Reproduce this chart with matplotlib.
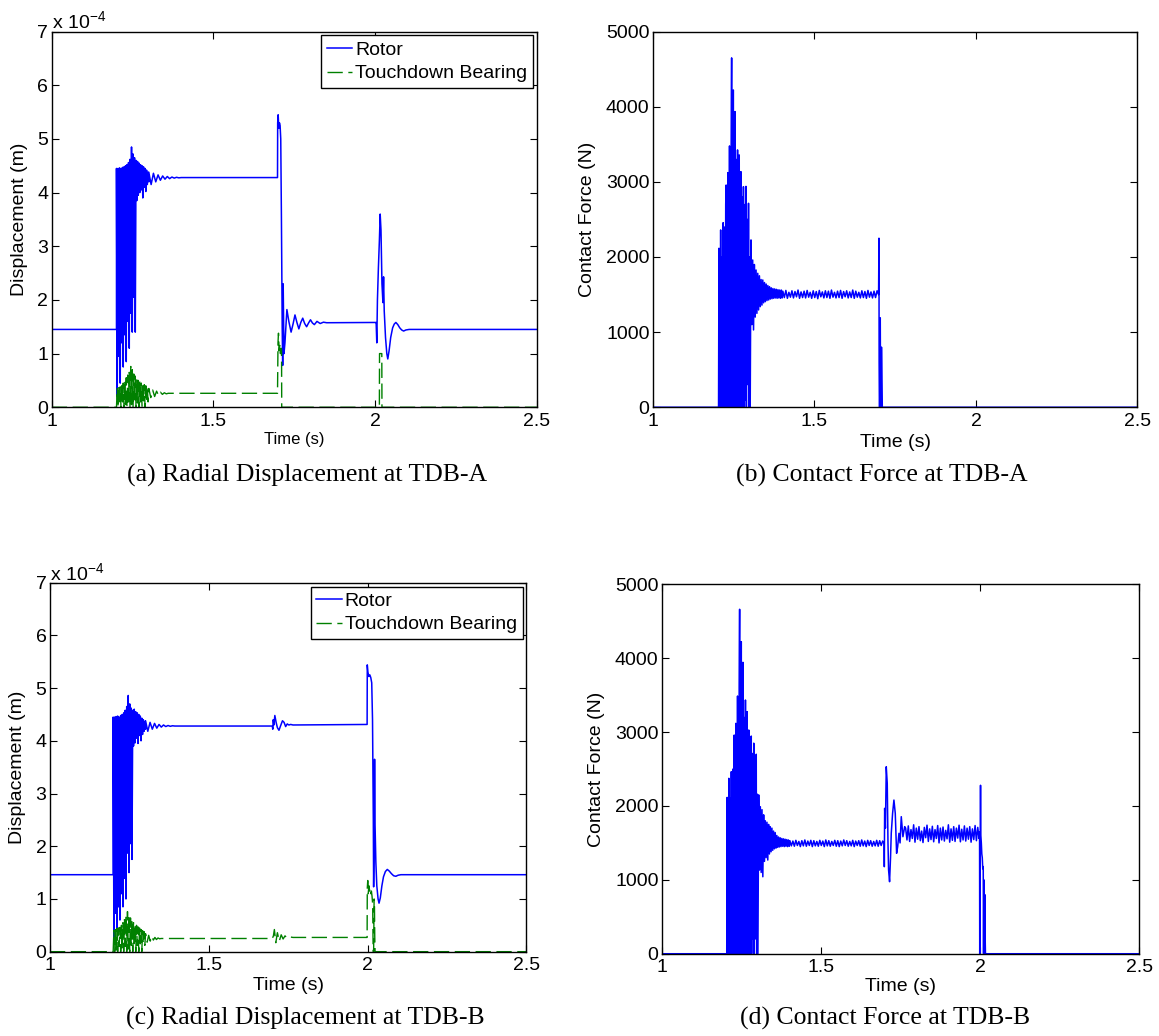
import numpy as np
import matplotlib.pyplot as plt
from matplotlib.ticker import FuncFormatter

plt.rcParams['font.family'] = 'Liberation Sans'
plt.rcParams['mathtext.fontset'] = 'custom'
plt.rcParams['mathtext.rm'] = 'Liberation Sans'
plt.rcParams['mathtext.it'] = 'Liberation Sans:italic'

# ---------------- (a) radial displacement at TDB-A, in 1e-4 m ----------------
# evenly sampled 1.200 .. 1.300 s
rotor_a_burst = [4.45, 0.2, 4.45, 0.95, 4.46, 0.45, 4.45, 1.2, 4.47, 0.75, 4.48, 1.35,
                 4.5, 0.85, 4.52, 1.6, 4.56, 1.1, 4.62, 1.75, 4.85, 1.4, 4.72, 2.05,
                 4.65, 1.4, 4.6, 3.85, 4.58, 3.95, 4.55, 4.0, 4.52, 4.05, 4.5, 3.9,
                 4.48, 4.1, 4.45, 4.02, 4.42, 4.15, 4.38, 4.2]
# evenly sampled 1.300 .. 1.400 s
rotor_a_decay = [4.38, 4.15, 4.36, 4.2, 4.33, 4.23, 4.31, 4.25, 4.3, 4.26, 4.29, 4.27,
                 4.285, 4.275, 4.28]
rotor_a_ev1_t = [1.698, 1.6985, 1.700, 1.702, 1.704, 1.706, 1.708, 1.710, 1.7125, 1.714,
                 1.7155, 1.718, 1.721, 1.727, 1.733, 1.740, 1.746, 1.752, 1.758, 1.764,
                 1.770, 1.776, 1.782, 1.788, 1.794, 1.800, 1.806, 1.812, 1.820, 1.830,
                 1.840, 1.850]
rotor_a_ev1_v = [4.28, 5.3, 5.45, 5.2, 5.3, 5.25, 5.0, 3.6, 1.5, 0.78,
                 2.3, 1.0, 1.2, 1.82, 1.6, 1.4, 1.55, 1.72, 1.58, 1.46,
                 1.58, 1.66, 1.56, 1.5, 1.57, 1.63, 1.57, 1.54, 1.6, 1.56,
                 1.585, 1.575]
rotor_a_ev2_t = [2.000, 2.003, 2.005, 2.007, 2.010, 2.013, 2.0155, 2.018, 2.021, 2.024,
                 2.026, 2.028, 2.032, 2.036, 2.039, 2.043, 2.048, 2.054, 2.059, 2.064,
                 2.070, 2.076, 2.082, 2.088, 2.095, 2.105, 2.5]
rotor_a_ev2_v = [1.58, 1.58, 1.2, 2.0, 2.6, 3.1, 3.6, 3.3, 2.3, 1.95,
                 2.43, 1.8, 1.3, 1.0, 0.9, 1.05, 1.3, 1.48, 1.55, 1.58,
                 1.54, 1.48, 1.44, 1.42, 1.44, 1.45, 1.45]

tdb_a_burst = [0.0, 0.35, 0.0, 0.4, 0.05, 0.38, 0.0, 0.42, 0.1, 0.45, 0.0, 0.5,
               0.05, 0.55, 0.0, 0.6, 0.1, 0.65, 0.0, 0.76, 0.05, 0.7, 0.0, 0.62,
               0.1, 0.58, 0.0, 0.52, 0.08, 0.5, 0.0, 0.48, 0.1, 0.45, 0.02, 0.45,
               0.12, 0.42, 0.0, 0.4, 0.15, 0.38, 0.1, 0.35]
# evenly sampled 1.300 .. 1.360 s
tdb_a_decay = [0.35, 0.18, 0.32, 0.2, 0.3, 0.22, 0.28, 0.24, 0.27, 0.25, 0.26]
tdb_a_ev1_t = [1.698, 1.6995, 1.701, 1.703, 1.705, 1.707, 1.709, 1.7105, 1.711]
tdb_a_ev1_v = [0.26, 1.2, 1.38, 1.05, 1.15, 1.0, 1.1, 1.05, 0.0]
tdb_a_ev2_t = [2.013, 2.0135, 2.0205, 2.021, 2.5]
tdb_a_ev2_v = [0.0, 1.0, 1.0, 0.0, 0.0]

# ---------------- (b) contact force at TDB-A, N ----------------
# evenly sampled 1.203 .. 1.301 s
force_a_burst = [0, 2116, 0, 1500, 200, 2360, 0, 1800, 0, 2000,
                 300, 2457, 0, 2200, 600, 2400, 0, 2700, 2958, 0,
                 2500, 400, 3123, 0, 2800, 800, 3478, 0, 3200, 200,
                 3500, 4650, 0, 3600, 900, 4223, 0, 3800, 300, 3935,
                 0, 3300, 600, 3000, 0, 3425, 700, 3100, 0, 3358,
                 500, 2900, 0, 3136, 900, 2600, 0, 2800, 400, 2936,
                 0, 2500, 800, 2700, 100, 2940, 0, 2300, 1000, 2500,
                 300, 2715, 0, 2000, 1200, 0]
# evenly sampled 1.3035 .. 1.400 s
force_a_decay = [2227, 1100, 1960, 1029, 1900, 1200, 1827, 1250, 1783, 1295,
                 1750, 1339, 1700, 1360, 1694, 1390, 1660, 1405, 1640, 1420,
                 1620, 1428, 1605, 1440, 1590, 1445, 1580, 1450, 1575, 1455,
                 1570, 1450, 1565, 1455, 1560, 1450, 1560, 1455]
# evenly sampled 1.402 .. 1.6985 s
force_a_steady = [1545, 1460, 1555, 1450, 1530, 1465, 1550, 1455, 1540, 1470,
                  1560, 1450, 1535, 1460, 1545, 1455, 1555, 1465, 1530, 1450,
                  1550, 1460, 1540, 1445, 1555, 1470, 1535, 1455, 1550, 1460,
                  1545, 1450, 1560, 1465, 1530, 1455, 1545, 1460, 1555, 1450,
                  1540, 1470, 1550, 1455, 1535, 1460, 1560, 1450, 1545, 1465,
                  1530, 1455, 1550, 1460, 1540, 1450, 1555, 1465, 1535, 1455,
                  1545, 1460, 1550, 1500]
force_a_ev_t = [1.6997, 1.7002, 1.7010, 1.7020, 1.7037, 1.7045, 1.7060, 1.7075,
                1.7090, 1.7100, 2.5]
force_a_ev_v = [2250, 600, 0, 0, 1190, 300, 0, 800, 400, 0, 0]

# ---------------- (c) radial displacement at TDB-B, in 1e-4 m ----------------
# evenly sampled 1.199 .. 1.301 s
rotor_b_burst = [4.45, 0.19, 4.45, 0.73, 4.46, 0.4, 4.47, 0.85, 4.45, 0.6, 4.48, 1.1,
                 4.5, 0.85, 4.53, 1.39, 4.58, 1.0, 4.65, 1.87, 4.86, 1.5, 4.7, 2.05,
                 4.62, 1.75, 4.58, 3.9, 4.6, 3.96, 4.55, 4.05, 4.53, 3.95, 4.5, 4.1,
                 4.47, 4.0, 4.43, 4.12, 4.4, 4.18, 4.37, 4.22]
# evenly sampled 1.301 .. 1.400 s
rotor_b_decay = [4.38, 4.18, 4.35, 4.22, 4.33, 4.24, 4.31, 4.26, 4.3, 4.27, 4.29,
                 4.275, 4.285, 4.28, 4.28]
rotor_b_ev1_t = [1.700, 1.7015, 1.703, 1.705, 1.708, 1.712, 1.716, 1.721, 1.727, 1.732,
                 1.737, 1.742, 1.747, 1.752, 1.758, 1.765]
rotor_b_ev1_v = [4.28, 4.22, 4.4, 4.3, 4.48, 4.35, 4.25, 4.2, 4.3, 4.38,
                 4.35, 4.27, 4.32, 4.3, 4.31, 4.3]
rotor_b_ev2_t = [1.9985, 1.9990, 2.001, 2.004, 2.007, 2.010, 2.013, 2.0155, 2.018, 2.019,
                 2.0205, 2.022, 2.0235, 2.026, 2.029, 2.033, 2.036, 2.040, 2.045, 2.050,
                 2.056, 2.062, 2.068, 2.075, 2.082, 2.089, 2.096, 2.105, 2.5]
rotor_b_ev2_v = [4.31, 5.44, 5.3, 5.22, 5.25, 5.2, 5.1, 4.4, 2.5, 1.23,
                 2.0, 3.65, 2.4, 1.7, 1.25, 1.0, 0.92, 1.02, 1.25, 1.42,
                 1.52, 1.56, 1.53, 1.48, 1.44, 1.43, 1.45, 1.46, 1.46]

tdb_b_burst = [0.0, 0.4, 0.0, 0.42, 0.03, 0.44, 0.0, 0.45, 0.1, 0.46, 0.0, 0.5,
               0.05, 0.55, 0.0, 0.62, 0.1, 0.68, 0.0, 0.76, 0.05, 0.7, 0.0, 0.64,
               0.12, 0.6, 0.0, 0.55, 0.1, 0.52, 0.0, 0.5, 0.12, 0.47, 0.0, 0.45,
               0.15, 0.42, 0.0, 0.4, 0.15, 0.38, 0.12, 0.34]
# evenly sampled 1.301 .. 1.350 s
tdb_b_decay = [0.34, 0.18, 0.31, 0.2, 0.29, 0.22, 0.27, 0.23, 0.26, 0.245, 0.25]
tdb_b_ev1_t = [1.700, 1.7035, 1.7065, 1.711, 1.716, 1.722, 1.728, 1.734, 1.740, 1.746,
               1.755, 1.765]
tdb_b_ev1_v = [0.25, 0.3, 0.42, 0.17, 0.36, 0.2, 0.32, 0.24, 0.3, 0.26, 0.28, 0.27]
tdb_b_ev2_t = [1.9985, 1.999, 2.0005, 2.002, 2.004, 2.006, 2.008, 2.010, 2.012, 2.014,
               2.016, 2.0175, 2.019, 2.0205, 2.0215, 2.0225, 2.0235, 2.5]
tdb_b_ev2_v = [0.27, 1.2, 1.35, 1.1, 1.25, 1.15, 1.2, 1.1, 1.15, 1.05,
               0.9, 0.0, 0.0, 1.0, 0.95, 0.3, 0.0, 0.0]

# ---------------- (d) contact force at TDB-B, N ----------------
# evenly sampled 1.2035 .. 1.3015 s
force_b_burst = [0, 2116, 0, 1600, 100, 2374, 0, 1900, 0, 2100,
                 400, 2464, 0, 2300, 500, 2500, 0, 2800, 2960, 0,
                 2600, 300, 3118, 0, 2900, 700, 3488, 0, 3300, 100,
                 3600, 4662, 0, 3700, 800, 4224, 0, 3700, 200, 3944,
                 0, 3200, 500, 3100, 0, 3434, 600, 3000, 0, 3276,
                 400, 2950, 0, 3028, 800, 2700, 0, 2900, 300, 2946,
                 0, 2600, 700, 2712, 200, 2850, 0, 2400, 900, 2550,
                 200, 2700, 0, 2161, 1100, 0]
# evenly sampled 1.304 .. 1.400 s
force_b_decay = [2150, 1133, 1990, 1100, 1950, 1042, 1880, 1250, 1800, 1300,
                 1780, 1268, 1750, 1350, 1720, 1380, 1700, 1400, 1660, 1420,
                 1640, 1430, 1600, 1440, 1580, 1445, 1570, 1450, 1560, 1455,
                 1555, 1450, 1550, 1455, 1545, 1450, 1540, 1455]
# evenly sampled 1.402 .. 1.6985 s
force_b_steady1 = [1530, 1460, 1525, 1455, 1535, 1465, 1520, 1450, 1530, 1460,
                   1540, 1455, 1525, 1465, 1535, 1450, 1530, 1460, 1520, 1455,
                   1535, 1465, 1525, 1450, 1540, 1460, 1530, 1455, 1520, 1465,
                   1535, 1455, 1530, 1450, 1525, 1460, 1540, 1465, 1530, 1455,
                   1520, 1460, 1535, 1450, 1525, 1465, 1530, 1455, 1540, 1460,
                   1525, 1450, 1535, 1465, 1530, 1455, 1520, 1460, 1535, 1455,
                   1530, 1465, 1525, 1494]
force_b_ev1_t = [1.699, 1.700, 1.7025, 1.7051, 1.7082, 1.7105, 1.7124, 1.7155, 1.7185,
                 1.7208, 1.725, 1.7292, 1.7334, 1.7376, 1.741, 1.745, 1.7485, 1.7523,
                 1.7575, 1.763]
force_b_ev1_v = [1178, 1968, 1700, 2531, 2306, 1500, 1133, 975, 1300,
                 1630, 1900, 2080, 1900, 1359, 1450, 1630, 1500, 1855,
                 1584, 1720]
# evenly sampled 1.766 .. 1.997 s
force_b_steady2 = [1700, 1540, 1730, 1520, 1680, 1560, 1745, 1510, 1700, 1550,
                   1720, 1530, 1660, 1505, 1710, 1570, 1740, 1520, 1690, 1545,
                   1725, 1515, 1680, 1560, 1735, 1500, 1700, 1540, 1715, 1525,
                   1670, 1555, 1745, 1510, 1690, 1535, 1720, 1520, 1700, 1565,
                   1740, 1515, 1685, 1540, 1730, 1525, 1700, 1550, 1720, 1510,
                   1690, 1545, 1735, 1530, 1710, 1560]
force_b_ev2_t = [1.9975, 1.9985, 1.9990, 2.0000, 2.0015, 2.0025, 2.004, 2.0055, 2.007,
                 2.0085, 2.010, 2.011, 2.012, 2.013, 2.014, 2.015, 2.016, 2.017,
                 2.018, 2.5]
force_b_ev2_v = [1650, 1550, 0, 1200, 2280, 1600, 1500, 1350, 1300,
                 1150, 1180, 0, 1000, 850, 0, 800, 230, 0, 0, 0]

captions = ['(a) Radial Displacement at TDB-A', '(b) Contact Force at TDB-A',
            '(c) Radial Displacement at TDB-B', '(d) Contact Force at TDB-B']


def seg(t0, t1, vals):
    return np.linspace(t0, t1, len(vals)), np.asarray(vals, dtype=float)


def pts(ts, vals):
    return np.asarray(ts, dtype=float), np.asarray(vals, dtype=float)


def join(*parts):
    return (np.concatenate([p[0] for p in parts]),
            np.concatenate([p[1] for p in parts]))


rotor_a = join(pts([1.0, 1.2], [1.45, 1.45]), seg(1.2, 1.3, rotor_a_burst),
               seg(1.3, 1.4, rotor_a_decay), pts(rotor_a_ev1_t, rotor_a_ev1_v),
               pts(rotor_a_ev2_t, rotor_a_ev2_v))
tdb_a = join(pts([1.0, 1.2], [0, 0]), seg(1.2, 1.3, tdb_a_burst),
             seg(1.3, 1.36, tdb_a_decay), pts(tdb_a_ev1_t, tdb_a_ev1_v),
             pts(tdb_a_ev2_t, tdb_a_ev2_v))
force_a = join(pts([1.0, 1.203], [0, 0]), seg(1.203, 1.301, force_a_burst),
               seg(1.3035, 1.4, force_a_decay), seg(1.402, 1.6985, force_a_steady),
               pts(force_a_ev_t, force_a_ev_v))
rotor_b = join(pts([1.0, 1.199], [1.46, 1.46]), seg(1.199, 1.301, rotor_b_burst),
               seg(1.301, 1.4, rotor_b_decay), pts(rotor_b_ev1_t, rotor_b_ev1_v),
               pts(rotor_b_ev2_t, rotor_b_ev2_v))
tdb_b = join(pts([1.0, 1.199], [0, 0]), seg(1.199, 1.301, tdb_b_burst),
             seg(1.301, 1.35, tdb_b_decay), pts(tdb_b_ev1_t, tdb_b_ev1_v),
             pts(tdb_b_ev2_t, tdb_b_ev2_v))
force_b = join(pts([1.0, 1.2035], [0, 0]), seg(1.2035, 1.3015, force_b_burst),
               seg(1.304, 1.4, force_b_decay), seg(1.402, 1.6985, force_b_steady1),
               pts(force_b_ev1_t, force_b_ev1_v), seg(1.766, 1.997, force_b_steady2),
               pts(force_b_ev2_t, force_b_ev2_v))

BLUE = (0, 0, 1)
GREEN = (0, 0.5, 0)
DASH = (0, (11, 4))

fig = plt.figure(figsize=(11.59, 10.36), dpi=100)


def style(ax, ylab, ylab_x, xlab_y, xlab_size):
    ax.set_xlim(1, 2.5)
    ax.set_xticks([1, 1.5, 2, 2.5])
    ax.xaxis.set_major_formatter(FuncFormatter(lambda v, _: f'{v:g}'))
    ax.tick_params(direction='in', top=True, right=True, length=5, width=0.8,
                   labelsize=14, colors='black')
    ax.tick_params(axis='x', pad=4)
    ax.tick_params(axis='y', pad=2.5)
    for s in ax.spines.values():
        s.set_linewidth(1.0)
    ax.set_ylabel(ylab, fontsize=14, va='center')
    ax.yaxis.set_label_coords(ylab_x, 0.5)
    ax.set_xlabel('Time (s)', fontsize=xlab_size, va='center')
    ax.xaxis.set_label_coords(0.5, xlab_y)


def displacement(ax, rotor, tdb, ylab_x, xlab_y, xlab_size):
    ax.plot(rotor[0], rotor[1] * 1e-4, color=BLUE, lw=1.1, label='Rotor')
    ax.plot(tdb[0], tdb[1] * 1e-4, color=GREEN, lw=1.0, linestyle=DASH,
            label='Touchdown Bearing')
    ax.set_ylim(0, 7e-4)
    ax.set_yticks(np.arange(0, 8) * 1e-4)
    ax.yaxis.set_major_formatter(FuncFormatter(lambda v, _: f'{v * 1e4:.0f}'))
    style(ax, 'Displacement (m)', ylab_x, xlab_y, xlab_size)
    ax.annotate(r'x 10$^{-4}$', xy=(0, 1), xycoords='axes fraction',
                xytext=(0, 3), textcoords='offset pixels', ha='left',
                va='baseline', fontsize=14)
    leg = ax.legend(loc='upper right', fontsize=14, fancybox=False, framealpha=1,
                    edgecolor='black', borderaxespad=0.2, borderpad=0.3,
                    handlelength=1.3, handletextpad=0.15, labelspacing=0.3)
    leg.get_frame().set_linewidth(1.0)


def force(ax, f, ylab_x, xlab_y):
    ax.plot(f[0], f[1], color=BLUE, lw=1.1)
    ax.set_ylim(0, 5000)
    ax.set_yticks(np.arange(0, 5001, 1000))
    style(ax, 'Contact Force (N)', ylab_x, xlab_y, 14)


ax_a = fig.add_axes([0.0447, 0.6069, 0.4185, 0.3626])
ax_b = fig.add_axes([0.5634, 0.6069, 0.4180, 0.3626])
ax_c = fig.add_axes([0.0431, 0.0814, 0.4111, 0.3562])
ax_d = fig.add_axes([0.5712, 0.0794, 0.4116, 0.3566])

displacement(ax_a, rotor_a, tdb_a, -0.067, -0.087, 12)
force(ax_b, force_a, -0.135, -0.094)
displacement(ax_c, rotor_b, tdb_b, -0.069, -0.093, 14)
force(ax_d, force_b, -0.137, -0.089)

cap_pos = [(307, 475), (882, 475), (305, 1018), (885, 1018)]
for (px, py), txt in zip(cap_pos, captions):
    fig.text(px / 1159, 1 - py / 1036, txt, ha='center', va='center',
             family='Liberation Serif', fontsize=18.5)

fig.savefig('out.png', dpi=100)
